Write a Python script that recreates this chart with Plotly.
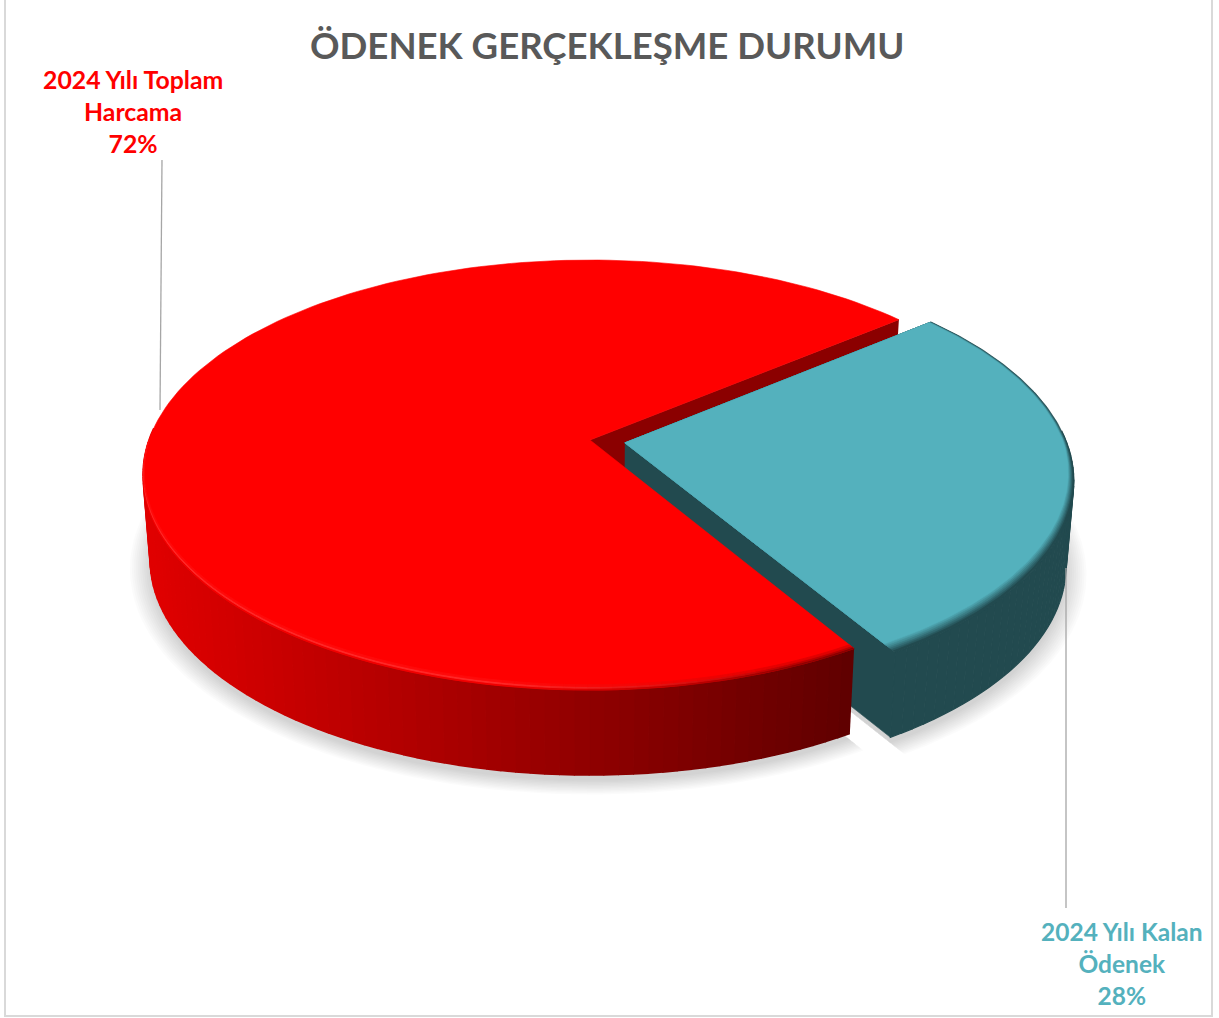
import numpy as np
import plotly.graph_objects as go

# --- data ---
categories = ["2024 Yılı Toplam<br>Harcama", "2024 Yılı Kalan<br>Ödenek"]
values = [72, 28]
top_colors = ["#FF0000", "#54B1BD"]
label_colors = ["#FF0000", "#54B1BD"]
title_text = "ÖDENEK GERÇEKLEŞME DURUMU"
teal_wall = "#224A4F"
red_inner_wall = "#8B0000"

# --- projection of a tilted disc (page pixels used as axis units) ---
CX, CY, A, B, K = 590.0, 440.0, 441.0, 209.3, 0.163
WALL, WALL_K, SHRINK = 84.5, 0.05, 0.984
GAP_CENTRE = 9.8     # degrees, direction of the pulled-out slice
GAP_VIEW = 0.976     # apparent foreshortening of the sweep in the tilted view
EXPLODE = 0.08

total = sum(values)
gap = 360.0 * values[1] / total * GAP_VIEW
teal_a0, teal_a1 = GAP_CENTRE - gap / 2, GAP_CENTRE + gap / 2
red_a0, red_a1 = teal_a1, teal_a0 + 360.0


def project(X, Y, bottom=False, dy=0.0):
    X, Y = np.asarray(X, float), np.asarray(Y, float)
    w = 1 - K * Y
    if bottom:
        return CX + A * SHRINK * X / w, CY + B * SHRINK * Y / w + WALL / (1 - WALL_K * Y) + dy
    return CX + A * X / w, CY + B * Y / w


def disc(deg, r=1.0, shift=0.0):
    t = np.radians(deg)
    sx = shift * np.cos(np.radians(GAP_CENTRE))
    sy = shift * np.sin(np.radians(GAP_CENTRE))
    return r * np.cos(t) + sx, r * np.sin(t) + sy


def hexmix(c1, c2, f):
    a = [int(c1[i:i + 2], 16) for i in (1, 3, 5)]
    b = [int(c2[i:i + 2], 16) for i in (1, 3, 5)]
    return "#%02X%02X%02X" % tuple(int(round(p + (q - p) * f)) for p, q in zip(a, b))


fig = go.Figure()


def poly(x, y, color, line=None, width=0.6):
    fig.add_trace(go.Scatter(
        x=list(x), y=list(y), mode="lines", fill="toself", fillcolor=color,
        line=dict(color=line or color, width=width), hoverinfo="skip", showlegend=False))


def sector(a0, a1, shift=0.0, r=1.0, bottom=False, dy=0.0, n=160):
    deg = np.linspace(a0, a1, n)
    X, Y = disc(deg, r, shift)
    cxs, cys = disc(0, 0, shift)
    X = np.r_[cxs, X, cxs]
    Y = np.r_[cys, Y, cys]
    return project(X, Y, bottom, dy)


def red_shade(x):
    v = np.clip(224 + (x - 150) * (96 - 224) / 700.0, 96, 224)
    return "#%02X0000" % int(round(v))


# soft shadow
for rr in np.linspace(1.045, 1.0, 11):
    for a0, a1, s in ((red_a0, red_a1, 0.0), (teal_a0, teal_a1, EXPLODE)):
        x, y = sector(a0, a1, s, rr, bottom=True, dy=6)
        poly(x, y, "rgba(0,0,0,0.016)", "rgba(0,0,0,0)")

# far inner wall of the red slice
ex, ey = disc(red_a1, 1.0)
p_top = project(ex, ey)
p_bot = project(ex, ey, True)
a_top = project(0, 0)
a_bot = project(0, 0, True)
poly([p_top[0], a_top[0], a_bot[0], p_bot[0]],
     [p_top[1], a_top[1], a_bot[1], p_bot[1]], red_inner_wall)

# teal: outer wall strips, cut wall, base of the top, then top with a soft rim
deg = np.linspace(teal_a0, teal_a1, 61)
X, Y = disc(deg, 1.0, EXPLODE)
tx, ty = project(X, Y)
bx, by = project(X, Y, True)
for i in range(len(deg) - 1):
    if np.sin(np.radians((deg[i] + deg[i + 1]) / 2)) < -0.05:
        continue
    poly([tx[i], tx[i + 1], bx[i + 1], bx[i]], [ty[i], ty[i + 1], by[i + 1], by[i]], teal_wall, width=1.2)
ax, ay = disc(0, 0, EXPLODE)
X1, Y1 = disc(teal_a1, 1.0, EXPLODE)
q1, q2 = project(ax, ay), project(X1, Y1)
q3, q4 = project(X1, Y1, True), project(ax, ay, True)
poly([q1[0], q2[0], q3[0], q4[0]], [q1[1], q2[1], q3[1], q4[1]], teal_wall)
x, y = sector(teal_a0, teal_a1, EXPLODE)
poly(x, y, teal_wall)


def inset_sector(a0, a1, shift, inset):
    d = np.linspace(a0, a1, 160)
    r = 1 - inset * (0.18 + 0.82 * np.clip(np.sin(np.radians(d)), 0, 1))
    X, Y = disc(d, r, shift)
    cxs, cys = disc(0, 0, shift)
    return project(np.r_[cxs, X, cxs], np.r_[cys, Y, cys])


steps = [0.010, 0.016, 0.022, 0.028, 0.034, 0.040]
for i, ins in enumerate(steps):
    f = (i + 1) / len(steps)
    x, y = inset_sector(teal_a0, teal_a1, EXPLODE, ins)
    poly(x, y, hexmix(teal_wall, top_colors[1], f))

# red: outer wall in vertical gradient strips, top, rim highlight
edges = np.linspace(red_a0, red_a1, 161)
X, Y = disc(edges, 1.0)
tx, ty = project(X, Y)
bx, by = project(X, Y, True)
for i in range(len(edges) - 1):
    if np.sin(np.radians((edges[i] + edges[i + 1]) / 2)) < -0.05:
        continue
    col = red_shade((tx[i] + tx[i + 1]) / 2)
    poly([tx[i], tx[i + 1], bx[i + 1], bx[i]], [ty[i], ty[i + 1], by[i + 1], by[i]], col, width=1.6)

x, y = sector(red_a0, red_a1)
poly(x, y, top_colors[0])

# rim: wall colour fading into the top near the dark right end, light line elsewhere
d_edges = np.linspace(red_a0, 180, 90)
for ins, frac, light in ((0.0, 0.75, "#F00000"), (0.006, 0.45, "#FF2A2A"), (0.012, 0.2, "#FF0A0A")):
    for i in range(len(d_edges) - 1):
        d0, d1 = d_edges[i], d_edges[i + 1]
        r0 = 1 - ins * np.sin(np.radians(d0))
        r1 = 1 - ins * np.sin(np.radians(d1))
        r0b = 1 - (ins + 0.006) * np.sin(np.radians(d0))
        r1b = 1 - (ins + 0.006) * np.sin(np.radians(d1))
        xa, ya = disc(np.array([d0, d1]), np.array([r0, r1]))
        xb, yb = disc(np.array([d1, d0]), np.array([r1b, r0b]))
        px, py = project(np.r_[xa, xb], np.r_[ya, yb])
        shade = red_shade(px.mean())
        strength = float(np.clip((px.mean() - 500) / 300, 0, 1))
        col = hexmix(light, hexmix("#FF0000", shade, frac), strength)
        poly(px, py, col, width=0.8)

# leader lines
leaders = [([160, 162], [410, 160]), ([1066, 1066], [568, 908])]
for lx, ly in leaders:
    fig.add_trace(go.Scatter(x=lx, y=ly, mode="lines", line=dict(color="#A6A6A6", width=1.3),
                             hoverinfo="skip", showlegend=False))

annotations = [
    dict(x=607, y=45, text="<b>%s</b>" % title_text, font=dict(size=36.6, color="#595959", family="Lato")),
    dict(x=133, y=111.5, text="<b>%s<br>%d%%</b>" % (categories[0], values[0]),
         font=dict(size=24.8, color=label_colors[0], family="Lato")),
    dict(x=1122, y=963.5, text="<b>%s<br>%d%%</b>" % (categories[1], values[1]),
         font=dict(size=24.5, color=label_colors[1], family="Lato")),
]
for a in annotations:
    a.update(xref="x", yref="y", showarrow=False, xanchor="center", yanchor="middle", align="center")

fig.update_layout(
    width=1219, height=1018, margin=dict(l=0, r=0, t=0, b=0),
    paper_bgcolor="white", plot_bgcolor="white", showlegend=False,
    xaxis=dict(range=[0, 1219], visible=False, fixedrange=True),
    yaxis=dict(range=[1018, 0], visible=False, fixedrange=True),
    annotations=annotations,
    shapes=[dict(type="rect", xref="x", yref="y", x0=5, x1=1212, y0=-6, y1=1016,
                 line=dict(color="#D9D9D9", width=2), layer="below")],
)
fig.write_html("out.html", config=dict(displayModeBar=False),
               post_script="document.body.style.margin='0';document.body.style.overflow='hidden';")
